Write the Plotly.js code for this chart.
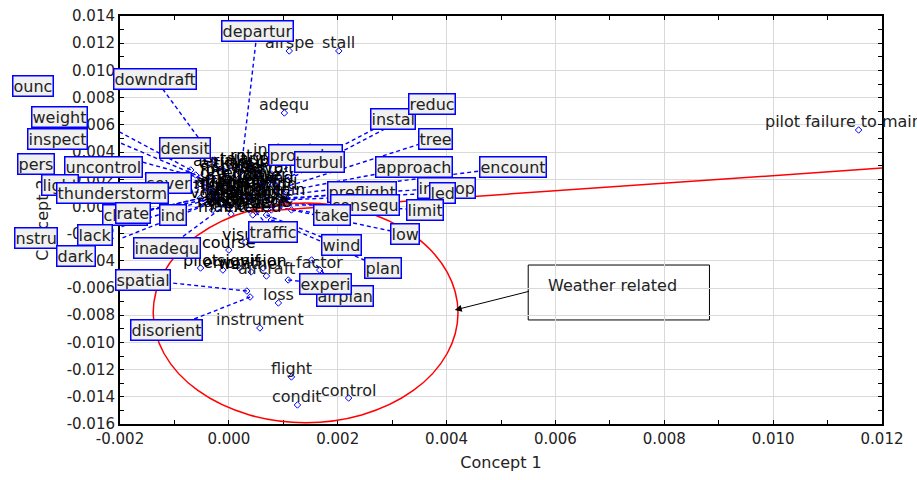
<!DOCTYPE html>
<html><head><meta charset="utf-8">
<script src="https://cdn.plot.ly/plotly-3.0.1.min.js"></script>
<style>html,body{margin:0;padding:0;background:#fff}#chart{width:917px;height:480px}</style>
</head><body><div id="chart"></div>
<script>
// ---- data: boxed terms (point coordinates, Concept 1 / Concept 2) ----
const boxedTerms = ["departur","downdraft","ounc","weight","inspect","densit","pers","uncontrol","light","sever","thunderstorm","cloud","ind","rate","nstru","lack","dark","inadequ","spatial","disorient","procedur","turbul","instal","reduc","tree","approach","encount","improp","led","preflight","consequ","limit","take","traffic","low","wind","plan","airplan","experi"];
const boxedX = [0.00022,-0.00026,-0.00070,-0.00061,-0.00052,-0.00011,-0.00043,-0.00033,-0.00043,-0.00030,-0.00030,-0.00024,-0.00019,-0.00024,-0.00052,-0.00043,-0.00033,-0.00006,0.00033,0.00039,0.00059,0.00069,0.00078,0.00087,0.00087,0.00096,0.00106,0.00106,0.00102,0.00093,0.00096,0.00106,0.00078,0.00050,0.00115,0.00069,0.00078,0.00152,0.00109];
const boxedY = [0.00253,0.00341,0.00268,0.00231,0.00209,0.00268,0.00179,0.00157,0.00135,0.00121,0.00106,0.00084,0.00047,0.00062,0.00062,0.00047,0.00025,0.00010,-0.00622,-0.00666,0.00157,0.00135,0.00172,0.00150,0.00121,0.00106,0.00084,0.00062,0.00047,0.00047,0.00010,0.00025,-0.00004,-0.00041,-0.00026,-0.00063,-0.00100,-0.00394,-0.00541];

// ---- data: plain (unboxed) terms, outside the central cluster ----
const plainTerms = ["airspe","stall","adequ","instruct","pilot failure to maintain","loss","instrument","flight","condit","control","factor","aircraft"];
const plainX = [0.00111,0.00202,0.00102,0.00100,0.01157,0.00091,0.00057,0.00115,0.00126,0.00220,0.00167,0.00069];
const plainY = [0.01143,0.01143,0.00687,0.00356,0.00562,-0.00710,-0.00894,-0.01254,-0.01460,-0.01409,-0.00468,-0.00512];

// ---- data: terms of the dense central cluster ----
const clusterTerms = ["aerial","applic","altitud","visib","terrain","heavi","fog","ground","engin","power","fuel","runway","land","night","maneuv","crosswind","ice","cloudi","descent","mountain","wire","obstacl","clearanc","rain","snow","judgment","decis","mainten","exceed","course","visual","pilot","error","signif","weather","vision",
  "speed","airport","approp","climb","vortex","helicopt","lost","student","gear","tail","rotor"];
const clusterX = [-0.00024,0.00063,-0.00006,0.00041,0.00078,0.00050,-0.00030,0.00000,0.00030,0.00063,-0.00015,0.00022,0.00087,-0.00026,0.00007,0.00052,-0.00030,0.00004,0.00033,0.00070,-0.00015,0.00019,0.00056,-0.00030,0.00000,0.00037,0.00078,0.00004,0.00044,0.00000,0.00031,-0.00052,-0.00011,0.00019,0.00041,0.00063,
  0.00013,-0.00011,0.00063,0.00022,-0.00024,0.00041,0.00078,0.00013,0.00063,0.00007,0.00037];
const clusterY = [0.00282,0.00297,0.00253,0.00268,0.00238,0.00224,0.00209,0.00194,0.00194,0.00179,0.00150,0.00150,0.00157,0.00106,0.00121,0.00113,0.00062,0.00076,0.00069,0.00062,0.00018,0.00025,0.00010,-0.00026,-0.00012,-0.00026,-0.00026,-0.00056,-0.00063,-0.00321,-0.00262,-0.00453,-0.00468,-0.00453,-0.00482,-0.00453,
  0.00231,0.00121,0.00121,0.00084,0.00047,0.00047,0.00047,0.00010,0.00165,0.00297,0.00312];

// ---- tick labels ----
const xTickVals = [-0.002,0,0.002,0.004,0.006,0.008,0.010,0.012];
const xTickText = ["-0.002","0.000","0.002","0.004","0.006","0.008","0.010","0.012"];
const yTickVals = [0.014,0.012,0.010,0.008,0.006,0.004,0.002,0,-0.002,-0.004,-0.006,-0.008,-0.010,-0.012,-0.014,-0.016];
const yTickText = ["0.014","0.012","0.010","0.008","0.006","0.004","0.002","0.000","-0.002","-0.004","-0.006","-0.008","-0.010","-0.012","-0.014","-0.016"];

// ---- layout: label placement for boxed terms (Concept-space positions) ----
const boxLabelX = [0.00052,-0.00135,-0.00359,-0.00311,-0.00315,-0.00080,-0.00354,-0.00231,-0.00311,-0.00111,-0.00213,-0.00191,-0.00102,-0.00176,-0.00354,-0.00246,-0.00280,-0.00113,-0.00157,-0.00115,0.00141,0.00167,0.00302,0.00374,0.00380,0.00341,0.00522,0.00400,0.00393,0.00244,0.00250,0.00361,0.00189,0.00081,0.00324,0.00207,0.00283,0.00213,0.00178];
const boxLabelY = [0.01290,0.00937,0.00885,0.00657,0.00496,0.00429,0.00312,0.00290,0.00157,0.00172,0.00099,-0.00063,-0.00063,-0.00049,-0.00232,-0.00210,-0.00365,-0.00306,-0.00541,-0.00909,0.00378,0.00326,0.00643,0.00753,0.00496,0.00290,0.00290,0.00135,0.00099,0.00106,0.00010,-0.00026,-0.00063,-0.00188,-0.00203,-0.00284,-0.00453,-0.00659,-0.00571];

const xRange = [-0.002, 0.012];
const yRange = [-0.016, 0.014];
const FONT = "DejaVu Sans";
const TXT = "#222";

const toPaperX = v => (v - xRange[0]) / (xRange[1] - xRange[0]);
const toPaperY = v => (v - yRange[0]) / (yRange[1] - yRange[0]);

// connectors from each boxed term's point to its label
const cx = [], cy = [];
boxedTerms.forEach((t, i) => {
  cx.push(boxedX[i], boxLabelX[i], null);
  cy.push(boxedY[i], boxLabelY[i], null);
});

const markerStyle = {symbol:"diamond-open", size:5, color:"#0000ff", line:{width:1}};
const traces = [
  {type:"scatter", mode:"lines", x:cx, y:cy, hoverinfo:"skip",
   line:{color:"#0000ff", width:1.4, dash:"4px,3px"}},
  {type:"scatter", mode:"markers", x:plainX, y:plainY, marker:markerStyle, cliponaxis:false},
  {type:"scatter", mode:"markers", x:clusterX, y:clusterY, marker:markerStyle},
  {type:"scatter", mode:"markers", x:boxedX, y:boxedY, marker:markerStyle}
];

const annotations = [];
// plain text labels centred just above their points
clusterTerms.forEach((t, i) => annotations.push({
  xref:"x", yref:"y", x:clusterX[i], y:clusterY[i], yshift:8, text:t, showarrow:false,
  xanchor:"center", yanchor:"middle", font:{family:FONT, size:16, color:"#000"}
}));
plainTerms.forEach((t, i) => annotations.push({
  xref:"x", yref:"y", x:plainX[i], y:plainY[i], yshift:8, text:t, showarrow:false,
  xanchor:"center", yanchor:"middle", font:{family:FONT, size:16, color:TXT}
}));
// boxed labels
boxedTerms.forEach((t, i) => annotations.push({
  xref:"paper", yref:"paper", x:toPaperX(boxLabelX[i]), y:toPaperY(boxLabelY[i]),
  xanchor:"center", yanchor:"middle", text:t, showarrow:false,
  font:{family:FONT, size:16, color:TXT},
  bgcolor:"#f0f0f0", bordercolor:"#0000ff", borderwidth:1.5, borderpad:0
}));

annotations.push({
  xref:"x", yref:"y", x:0.00704, y:-0.00578, text:"Weather related", showarrow:false,
  font:{family:FONT, size:16, color:TXT}, xanchor:"center", yanchor:"middle"
});
annotations.push({
  xref:"x", yref:"y", axref:"x", ayref:"y", x:0.00415, y:-0.00762, ax:0.00554, ay:-0.00622,
  text:"", showarrow:true, arrowhead:2, arrowsize:1.4, arrowwidth:1, arrowcolor:"#000"
});

const shapes = [
  {type:"circle", xref:"x", yref:"y", x0:-0.00139, x1:0.00421, y0:-0.0159, y1:0.00025,
   line:{color:"#ff0000", width:1.5}},
  {type:"line", xref:"x", yref:"y", x0:0.00041, y0:-0.00041, x1:0.012, y1:0.00282,
   line:{color:"#ff0000", width:1.5}},
  {type:"rect", xref:"x", yref:"y", x0:0.0055, x1:0.00883, y0:-0.00835, y1:-0.00431,
   line:{color:"#000", width:1}, fillcolor:"rgba(255,255,255,1)", layer:"below"}
];

const axisCommon = {
  showline:true, linecolor:"#000", linewidth:2, mirror:"ticks",
  ticks:"inside", ticklen:4, tickwidth:1, tickcolor:"#000",
  showgrid:true, gridcolor:"#d9d9d9", gridwidth:1, zeroline:false,
  tickfont:{family:FONT, size:15, color:TXT},
  minor:{ticks:"inside", ticklen:4, tickwidth:1, tickcolor:"#000", tickmode:"linear", tick0:0, dtick:0.001, showgrid:false}
};

const layout = {
  width:917, height:480,
  margin:{l:120, r:35, t:16, b:56},
  paper_bgcolor:"#fff", plot_bgcolor:"#fff",
  showlegend:false,
  xaxis:Object.assign({}, axisCommon, {range:xRange, tickmode:"array", tickvals:xTickVals, ticktext:xTickText,
    title:{text:"Concept 1", font:{family:FONT, size:16, color:TXT}, standoff:10}}),
  yaxis:Object.assign({}, axisCommon, {range:yRange, tickmode:"array", tickvals:yTickVals, ticktext:yTickText,
    title:{text:"Concept 2", font:{family:FONT, size:16, color:TXT}, standoff:14}}),
  annotations:annotations,
  shapes:shapes
};

Plotly.newPlot("chart", traces, layout, {displayModeBar:false, staticPlot:true});
</script>
</body></html>
